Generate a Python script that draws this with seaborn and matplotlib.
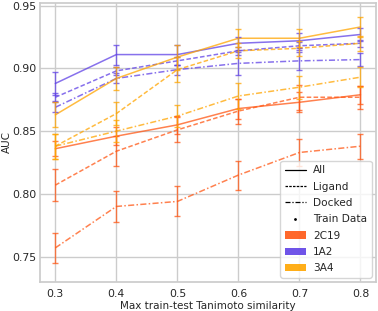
import numpy as np
import pandas as pd
import matplotlib
matplotlib.use("Agg")
import matplotlib.pyplot as plt
import seaborn as sns
from matplotlib.lines import Line2D
from matplotlib.patches import Patch

# Max train-test Tanimoto similarity thresholds
similarity = [0.3, 0.4, 0.5, 0.6, 0.7, 0.8]

# mean AUC per target / feature set
auc_2c19_all = [0.836, 0.846, 0.855, 0.868, 0.873, 0.879]
auc_2c19_ligand = [0.807, 0.834, 0.851, 0.866, 0.877, 0.877]
auc_2c19_docked = [0.757, 0.790, 0.794, 0.815, 0.833, 0.838]
auc_1a2_all = [0.888, 0.911, 0.911, 0.920, 0.922, 0.927]
auc_1a2_ligand = [0.877, 0.898, 0.906, 0.914, 0.918, 0.920]
auc_1a2_docked = [0.869, 0.892, 0.899, 0.904, 0.906, 0.907]
auc_3a4_all = [0.863, 0.892, 0.909, 0.924, 0.924, 0.933]
auc_3a4_ligand = [0.838, 0.864, 0.899, 0.914, 0.916, 0.920]
auc_3a4_docked = [0.838, 0.850, 0.862, 0.878, 0.885, 0.893]

# error bar half widths
err_2c19_all = [0.006, 0.007, 0.007, 0.008, 0.008, 0.007]
err_2c19_ligand = [0.0125, 0.012, 0.010, 0.010, 0.010, 0.009]
err_2c19_docked = [0.012, 0.012, 0.012, 0.0115, 0.011, 0.010]
err_1a2_all = [0.009, 0.008, 0.008, 0.005, 0.006, 0.005]
err_1a2_ligand = [0.003, 0.003, 0.003, 0.003, 0.003, 0.003]
err_1a2_docked = [0.004, 0.004, 0.004, 0.009, 0.007, 0.005]
err_3a4_all = [0.010, 0.009, 0.010, 0.007, 0.007, 0.008]
err_3a4_ligand = [0.010, 0.009, 0.010, 0.006, 0.006, 0.006]
err_3a4_docked = [0.010, 0.009, 0.009, 0.010, 0.009, 0.008]

targets = ["2C19", "1A2", "3A4"]
modes = ["All", "Ligand", "Docked"]

palette = {"2C19": "#ff5714", "1A2": "#5f41e6", "3A4": "#ffa500"}
dashes = {"All": "", "Ligand": (3, 1.5), "Docked": (4, 1.5, 1, 1.5)}

series = {
    ("2C19", "All"): (auc_2c19_all, err_2c19_all),
    ("2C19", "Ligand"): (auc_2c19_ligand, err_2c19_ligand),
    ("2C19", "Docked"): (auc_2c19_docked, err_2c19_docked),
    ("1A2", "All"): (auc_1a2_all, err_1a2_all),
    ("1A2", "Ligand"): (auc_1a2_ligand, err_1a2_ligand),
    ("1A2", "Docked"): (auc_1a2_docked, err_1a2_docked),
    ("3A4", "All"): (auc_3a4_all, err_3a4_all),
    ("3A4", "Ligand"): (auc_3a4_ligand, err_3a4_ligand),
    ("3A4", "Docked"): (auc_3a4_docked, err_3a4_docked),
}

rows = []
for (t, m), (vals, errs) in series.items():
    for s, v, e in zip(similarity, vals, errs):
        rows.append({"similarity": s, "AUC": v, "err": e, "target": t, "mode": m})
df = pd.DataFrame(rows)

sns.set_theme(style="whitegrid")
plt.rcParams["font.family"] = ["DejaVu Sans"]
plt.rcParams.update({
    "xtick.labelsize": 7.8,
    "ytick.labelsize": 7.8,
    "axes.labelsize": 7.5,
    "legend.fontsize": 7.6,
    "xtick.major.size": 0,
    "ytick.major.size": 0,
})

fig, ax = plt.subplots(figsize=(3.78, 3.11), dpi=100)

sns.lineplot(data=df, x="similarity", y="AUC", hue="target", style="mode",
             palette=palette, dashes=dashes, hue_order=targets, style_order=modes,
             linewidth=1.1, alpha=0.75, legend=False, ax=ax)

for (t, m), g in df.groupby(["target", "mode"]):
    ax.errorbar(g["similarity"], g["AUC"], yerr=g["err"], fmt="none",
                ecolor=palette[t], alpha=0.75, elinewidth=1.0, capsize=2.5,
                capthick=1.0)

ax.set_xlim(0.275, 0.825)
ax.set_ylim(0.730, 0.952)
ax.set_xticks(similarity)
ax.set_yticks([0.75, 0.80, 0.85, 0.90, 0.95])
ax.set_xlabel("Max train-test Tanimoto similarity", labelpad=2)
ax.set_ylabel("AUC")
ax.yaxis.set_label_coords(-0.085, 0.5)
ax.tick_params(axis="x", pad=5)
ax.tick_params(axis="y", pad=2.5)

handles = [
    Line2D([], [], color="black", lw=0.9, ls="-", label="All"),
    Line2D([], [], color="black", lw=0.9, ls=(0, (2, 1)), label="Ligand"),
    Line2D([], [], color="black", lw=0.9, ls=(0, (4, 1.5, 1, 1.5)), label="Docked"),
    Line2D([], [], color="black", lw=0, marker=".", markersize=2, label="Train Data"),
]
for t in targets:
    handles.append(Patch(facecolor=palette[t], edgecolor="none", alpha=0.9, label=t))
ax.legend(handles=handles, loc="lower right", frameon=True, borderaxespad=0.4,
          handlelength=2.0, handletextpad=0.7, labelspacing=0.6)

fig.subplots_adjust(left=0.106, right=0.994, top=0.99, bottom=0.094)
fig.savefig("out.png", dpi=100)
